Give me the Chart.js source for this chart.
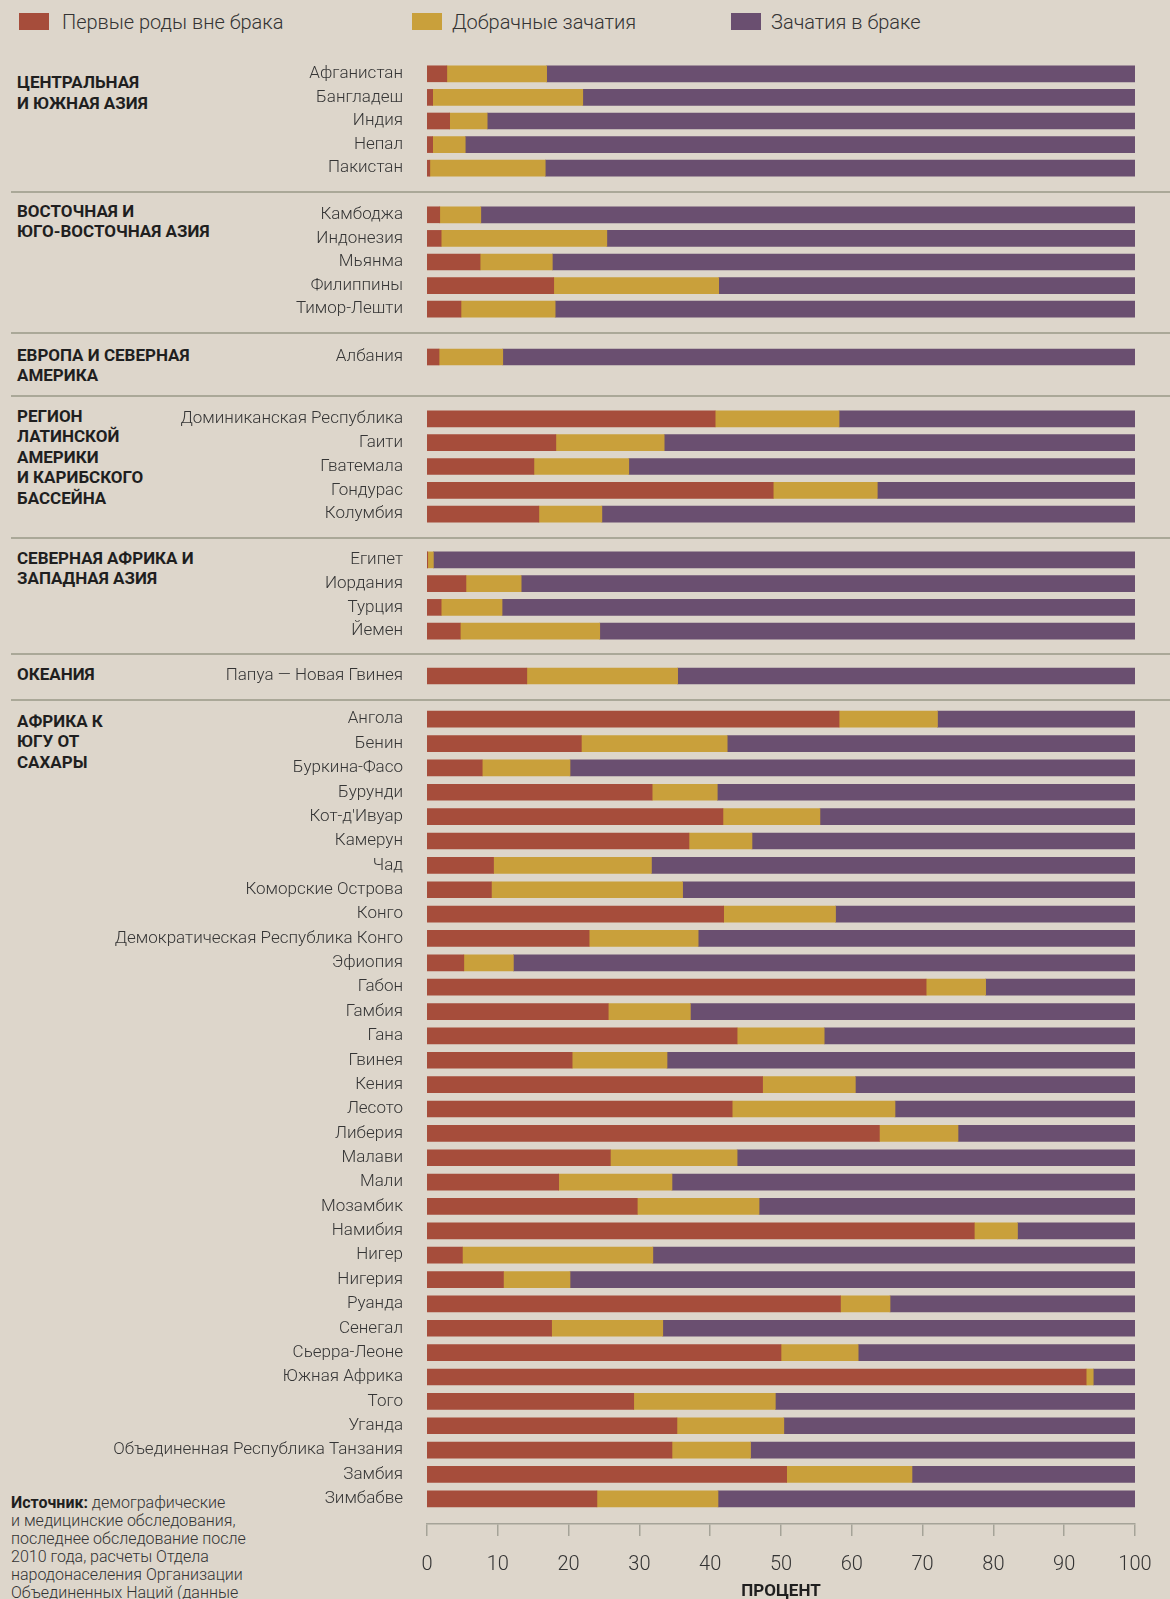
<!DOCTYPE html>
<html lang="ru">
<head>
<meta charset="utf-8">
<script src="https://cdn.jsdelivr.net/npm/chart.js@4.4.1/dist/chart.umd.min.js"></script>
<style>
  html, body { margin: 0; padding: 0; }
  body {
    width: 1170px; height: 1599px; overflow: hidden; position: relative;
    background: #ddd6cb;
    font-family: Roboto, "Noto Sans", sans-serif;
    color: #333;
  }
  .legend-box { position: absolute; top: 13px; width: 30px; height: 17px; }
  .legend-text { position: absolute; top: 10px; font-size: 20px; font-weight: 300; line-height: 24px; color: #333; }
  .region {
    position: absolute; left: 17px; font-size: 17px; font-weight: 700;
    line-height: 20.6px; color: #1f1f1f; white-space: pre;
  }
  .sep { position: absolute; left: 11px; right: 0; height: 1.5px; background: #aaa898; }
  canvas { position: absolute; left: 0; }
  .source {
    position: absolute; left: 11px; top: 1494px; font-size: 16px; font-weight: 300;
    line-height: 17.9px; color: #333;
  }
  .source b { font-weight: 700; color: #1f1f1f; }
</style>
</head>
<body>

<div class="legend-box" style="left:19px;background:#a64d3b"></div>
<div class="legend-text" style="left:62px">Первые роды вне брака</div>
<div class="legend-box" style="left:412px;background:#c9a03b"></div>
<div class="legend-text" style="left:452px">Добрачные зачатия</div>
<div class="legend-box" style="left:731px;background:#6a4f70"></div>
<div class="legend-text" style="left:771px">Зачатия в браке</div>

<div class="source"><b>Источник:</b> демографические<br>и медицинские обследования,<br>последнее обследование после<br>2010 года, расчеты Отдела<br>народонаселения Организации<br>Объединенных Наций (данные</div>

<script>
// Регионы и число стран в каждом
const regionNames = [
  'ЦЕНТРАЛЬНАЯ\nИ ЮЖНАЯ АЗИЯ',
  'ВОСТОЧНАЯ И\nЮГО-ВОСТОЧНАЯ АЗИЯ',
  'ЕВРОПА И СЕВЕРНАЯ\nАМЕРИКА',
  'РЕГИОН\nЛАТИНСКОЙ\nАМЕРИКИ\nИ КАРИБСКОГО\nБАССЕЙНА',
  'СЕВЕРНАЯ АФРИКА И\nЗАПАДНАЯ АЗИЯ',
  'ОКЕАНИЯ',
  'АФРИКА К\nЮГУ ОТ\nСАХАРЫ'
];
const regionSizes = [5, 5, 1, 5, 4, 1, 33];

const countries = [
  'Афганистан', 'Бангладеш', 'Индия', 'Непал', 'Пакистан',
  'Камбоджа', 'Индонезия', 'Мьянма', 'Филиппины', 'Тимор-Лешти',
  'Албания',
  'Доминиканская Республика', 'Гаити', 'Гватемала', 'Гондурас', 'Колумбия',
  'Египет', 'Иордания', 'Турция', 'Йемен',
  'Папуа — Новая Гвинея',
  'Ангола', 'Бенин', 'Буркина-Фасо', 'Бурунди', 'Кот-д\'Ивуар', 'Камерун', 'Чад',
  'Коморские Острова', 'Конго', 'Демократическая Республика Конго', 'Эфиопия',
  'Габон', 'Гамбия', 'Гана', 'Гвинея', 'Кения', 'Лесото', 'Либерия', 'Малави',
  'Мали', 'Мозамбик', 'Намибия', 'Нигер', 'Нигерия', 'Руанда', 'Сенегал',
  'Сьерра-Леоне', 'Южная Африка', 'Того', 'Уганда',
  'Объединенная Республика Танзания', 'Замбия', 'Зимбабве'
];

// Первые роды вне брака, %
const birthsOutside = [
  2.8, 0.8, 3.2, 0.8, 0.4,
  1.8, 2.0, 7.5, 17.9, 4.8,
  1.7,
  40.7, 18.2, 15.1, 48.9, 15.8,
  0.1, 5.5, 2.0, 4.7,
  14.1,
  58.2, 21.8, 7.8, 31.8, 41.8, 37.0, 9.4,
  9.1, 41.9, 22.9, 5.2,
  70.5, 25.6, 43.8, 20.5, 47.4, 43.1, 63.9, 25.9,
  18.6, 29.7, 77.3, 5.0, 10.8, 58.4, 17.6,
  50.0, 93.1, 29.2, 35.3,
  34.6, 50.8, 24.0
];
// Добрачные зачатия, %
const premarital = [
  14.1, 21.2, 5.3, 4.6, 16.3,
  5.8, 23.4, 10.2, 23.3, 13.3,
  9.0,
  17.5, 15.3, 13.4, 14.7, 8.9,
  0.8, 7.8, 8.6, 19.7,
  21.3,
  13.9, 20.6, 12.4, 9.2, 13.7, 8.9, 22.3,
  27.0, 15.8, 15.4, 7.0,
  8.4, 11.6, 12.3, 13.4, 13.1, 23.0, 11.1, 17.9,
  16.0, 17.2, 6.1, 26.9, 9.4, 7.0, 15.7,
  10.9, 1.0, 20.0, 15.1,
  11.1, 17.7, 17.1
];
// Зачатия в браке, %
const marital = [
  83.1, 78.0, 91.5, 94.6, 83.3,
  92.4, 74.6, 82.3, 58.8, 81.9,
  89.3,
  41.8, 66.5, 71.5, 36.4, 75.3,
  99.1, 86.7, 89.4, 75.6,
  64.6,
  27.9, 57.6, 79.8, 59.0, 44.5, 54.1, 68.3,
  63.9, 42.3, 61.7, 87.8,
  21.1, 62.8, 43.9, 66.1, 39.5, 33.9, 25.0, 56.2,
  65.4, 53.1, 16.6, 68.1, 79.8, 34.6, 66.7,
  39.1, 5.9, 50.8, 49.6,
  54.3, 31.5, 58.9
];

const seriesNames = ['Первые роды вне брака', 'Добрачные зачатия', 'Зачатия в браке'];
const xTicks = [0, 10, 20, 30, 40, 50, 60, 70, 80, 90, 100];

// раскладка страницы
const colors = ['#a64d3b', '#c9a03b', '#6a4f70'];
const sectionTops = [62, 203, 345, 407, 548, 664, 707];
const sectionHeights = [118, 118, 24, 119, 95, 24, 804];
const regionLabelCenters = [82.7, 211, 355, 416, 558, 674, 721];
const separators = [191, 332, 395, 537, 653, 699];
const plotLeft = 427;
const plotRightPad = 35;

Chart.defaults.font.family = 'Roboto, "Noto Sans", sans-serif';

separators.forEach(y => {
  const d = document.createElement('div');
  d.className = 'sep';
  d.style.top = y + 'px';
  document.body.appendChild(d);
});

let start = 0;
regionSizes.forEach((n, i) => {
  const end = start + n;

  const lbl = document.createElement('div');
  lbl.className = 'region';
  lbl.textContent = regionNames[i];
  lbl.style.top = (regionLabelCenters[i] - 10.3) + 'px';
  document.body.appendChild(lbl);

  const canvas = document.createElement('canvas');
  canvas.width = 1170;
  canvas.height = sectionHeights[i];
  canvas.style.top = sectionTops[i] + 'px';
  document.body.appendChild(canvas);

  const values = [birthsOutside, premarital, marital];
  new Chart(canvas, {
    type: 'bar',
    data: {
      labels: countries.slice(start, end),
      datasets: values.map((arr, k) => ({
        label: seriesNames[k],
        data: arr.slice(start, end),
        backgroundColor: colors[k],
        barThickness: 16,
        borderWidth: 0
      }))
    },
    options: {
      indexAxis: 'y',
      responsive: false,
      animation: false,
      layout: { padding: { left: 0, right: plotRightPad, top: 0, bottom: 0 } },
      plugins: { legend: { display: false }, tooltip: { enabled: false } },
      scales: {
        x: { stacked: true, min: 0, max: 100, display: false },
        y: {
          stacked: true,
          grid: { display: false, drawTicks: false },
          border: { display: false },
          ticks: { padding: 24, color: '#353535', font: { size: 17, weight: 300 } },
          afterFit(scale) {
            scale.width = plotLeft;
            scale.paddingTop = 0;
            scale.paddingBottom = 0;
          }
        }
      }
    }
  });
  start = end;
});

// ось X отдельно внизу
const axisCanvas = document.createElement('canvas');
axisCanvas.width = 1170;
axisCanvas.height = 88;
axisCanvas.style.top = '1514px';
document.body.appendChild(axisCanvas);

new Chart(axisCanvas, {
  type: 'scatter',
  data: { datasets: [] },
  options: {
    responsive: false,
    animation: false,
    layout: { padding: { left: plotLeft, right: plotRightPad, top: 0, bottom: 0 } },
    plugins: { legend: { display: false }, tooltip: { enabled: false } },
    scales: {
      x: {
        type: 'linear', min: 0, max: 100,
        afterBuildTicks(scale) { scale.ticks = xTicks.map(v => ({ value: v })); },
        ticks: { padding: 17, color: '#333', font: { size: 20, weight: 300 } },
        grid: { drawOnChartArea: false, tickLength: 12, color: '#a5a398', lineWidth: 1.5 },
        border: { color: '#a5a398', width: 1.5 },
        title: { display: true, text: 'ПРОЦЕНТ', color: '#1f1f1f', padding: 0,
                 font: { size: 17, weight: 'bold' } },
        afterFit(scale) { scale.height = 78; }
      },
      y: { display: false, min: 0, max: 1 }
    }
  }
});
</script>
</body>
</html>
